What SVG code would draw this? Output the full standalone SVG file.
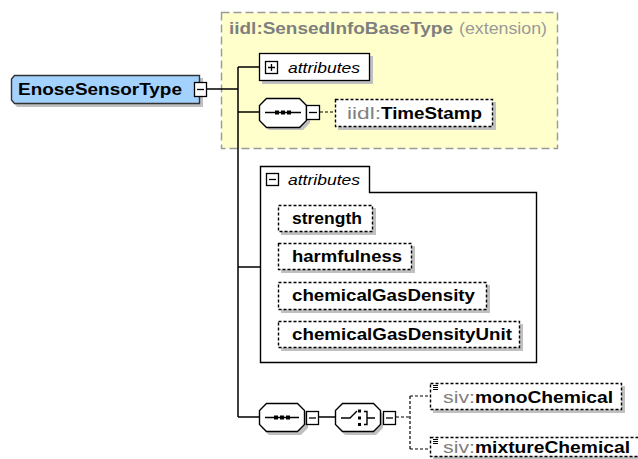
<svg xmlns="http://www.w3.org/2000/svg" width="638" height="459" viewBox="0 0 638 459">
<style>
.t{font-family:"Liberation Sans",Arial,sans-serif;font-weight:bold;font-size:17px;fill:#000}
.pre{fill:#808080;font-weight:normal}
.it{font-family:"Liberation Sans",Arial,sans-serif;font-style:italic;font-size:15px;fill:#000}
.sh{fill:#c0c0c0}
.dash{fill:#fff;stroke:#000;stroke-width:1.4;stroke-dasharray:3,2}
.solid{fill:#fff;stroke:#000;stroke-width:1.3}
.ln{stroke:#000;stroke-width:1.5;fill:none}
.dl{stroke:#000;stroke-width:1.2;fill:none;stroke-dasharray:3,2}
.oct{fill:#fff;stroke:#000;stroke-width:1.4}
</style>
<rect width="638" height="459" fill="#fff"/>

<g id="extension">
<rect x="221.5" y="12.5" width="336" height="136" fill="#ffffcc" stroke="#999" stroke-width="1.4" stroke-dasharray="8,4"/>
<text x="229" y="34" class="t" style="fill:#7f7f7f" textLength="224" lengthAdjust="spacingAndGlyphs">iidl:SensedInfoBaseType</text>
<text x="459" y="34" class="t" style="fill:#999;font-weight:normal" textLength="88" lengthAdjust="spacingAndGlyphs">(extension)</text>
</g>

<g id="connectors">
<path class="ln" d="M207,89 H238 M238,67 V417 M238,67 H259 M238,112 H259 M238,267 H260 M238,417 H259"/>
<path class="ln" d="M319,417 H335"/>
<path class="dl" d="M320,112 H335 M396,417 H410 M410,396 V449 M410,396 H430 M410,449 H430"/>
</g>

<g id="EnoseSensorType">
<path class="sh" d="M17,78 H203 V107 H17 L14,103 V82 Z"/>
<path d="M14.5,75.5 H199.5 V103.5 H14.5 L11.5,100 V79 Z" fill="#a3d2ff" stroke="#333" stroke-width="1.4"/>
<text x="18" y="95" class="t" textLength="164" lengthAdjust="spacingAndGlyphs">EnoseSensorType</text>
<rect x="194.5" y="82.5" width="12" height="14" class="solid"/>
<line x1="197" y1="89.5" x2="204" y2="89.5" stroke="#000" stroke-width="1.3"/>
</g>

<g id="attributes1">
<rect x="262" y="56" width="111" height="28" class="sh"/>
<rect x="259.5" y="53.5" width="110" height="27" class="solid"/>
<rect x="265.5" y="61.5" width="12" height="12" class="solid"/>
<path d="M268,67.5 H275 M271.5,64 V71" stroke="#000" stroke-width="1.3"/>
<text x="288" y="73" class="it" textLength="72" lengthAdjust="spacingAndGlyphs">attributes</text>
</g>

<g id="sequence1">
<path class="sh" d="M269,101 H303 L310,108 V123 L303,130 H269 L262,123 V108 Z"/>
<path class="oct" d="M266.5,98.5 H299.5 L306.5,105.5 V120.5 L299.5,127.5 H266.5 L259.5,120.5 V105.5 Z"/>
<path d="M265,112.5 H301" stroke="#000" stroke-width="1.4"/>
<rect x="275" y="110.5" width="4" height="4" fill="#000"/>
<rect x="281" y="110.5" width="4" height="4" fill="#000"/>
<rect x="287" y="110.5" width="4" height="4" fill="#000"/>
<rect x="306.5" y="105.5" width="13" height="14" class="solid"/>
<line x1="309" y1="112.5" x2="317" y2="112.5" stroke="#000" stroke-width="1.3"/>
</g>

<g id="TimeStamp">
<rect x="338" y="102" width="158" height="28" class="sh"/>
<rect x="335.5" y="99.5" width="157" height="27" class="dash"/>
<text x="347" y="119" class="t"><tspan class="pre" textLength="34" lengthAdjust="spacingAndGlyphs">iidl:</tspan><tspan textLength="101" lengthAdjust="spacingAndGlyphs">TimeStamp</tspan></text>
</g>

<g id="attributes2">
<path d="M260.5,192.5 V166.5 H369.5 V192.5 H536.5 V362.5 H260.5 Z" fill="#fff" stroke="#000" stroke-width="1.4"/>
<rect x="266.5" y="173.5" width="12" height="12" class="solid"/>
<path d="M269,179.5 H276" stroke="#000" stroke-width="1.3"/>
<text x="288" y="185" class="it" textLength="72" lengthAdjust="spacingAndGlyphs">attributes</text>
</g>

<g id="strength">
<rect x="281" y="208" width="95" height="27" class="sh"/>
<rect x="278.5" y="205.5" width="94" height="26" class="dash"/>
<text x="292" y="224" class="t" textLength="70" lengthAdjust="spacingAndGlyphs">strength</text>
</g>
<g id="harmfulness">
<rect x="281" y="246" width="134" height="27" class="sh"/>
<rect x="278.5" y="243.5" width="133" height="26" class="dash"/>
<text x="292" y="262" class="t" textLength="110" lengthAdjust="spacingAndGlyphs">harmfulness</text>
</g>
<g id="chemicalGasDensity">
<rect x="281" y="285" width="209" height="28" class="sh"/>
<rect x="278.5" y="282.5" width="208" height="27" class="dash"/>
<text x="292" y="301" class="t" textLength="183" lengthAdjust="spacingAndGlyphs">chemicalGasDensity</text>
</g>
<g id="chemicalGasDensityUnit">
<rect x="281" y="324" width="242" height="27" class="sh"/>
<rect x="278.5" y="321.5" width="241" height="26" class="dash"/>
<text x="292" y="340" class="t" textLength="220" lengthAdjust="spacingAndGlyphs">chemicalGasDensityUnit</text>
</g>

<g id="sequence2">
<path class="sh" d="M269,407 H301 L308,414 V428 L301,435 H269 L262,428 V414 Z"/>
<path class="oct" d="M266.5,403.5 H297.5 L304.5,410.5 V424.5 L297.5,431.5 H266.5 L259.5,424.5 V410.5 Z"/>
<path d="M265,417.5 H299" stroke="#000" stroke-width="1.4"/>
<rect x="274" y="415.5" width="4" height="4" fill="#000"/>
<rect x="280" y="415.5" width="4" height="4" fill="#000"/>
<rect x="286" y="415.5" width="4" height="4" fill="#000"/>
<rect x="306.5" y="411.5" width="12" height="13" class="solid"/>
<line x1="309" y1="418" x2="316" y2="418" stroke="#000" stroke-width="1.3"/>
</g>

<g id="choice">
<path class="sh" d="M345,407 H376 L383,414 V428 L376,435 H345 L338,428 V414 Z"/>
<path class="oct" d="M342.5,403.5 H373.5 L380.5,410.5 V424.5 L373.5,431.5 H342.5 L335.5,424.5 V410.5 Z"/>
<path d="M341,418 H350 L357,411 M364,411.5 H367 V424.5 H364 M367,418 H375" stroke="#000" stroke-width="1.4" fill="none"/>
<rect x="358" y="409.5" width="3" height="3" fill="#000"/>
<rect x="358" y="416.5" width="3" height="3" fill="#000"/>
<rect x="358" y="423" width="3" height="3" fill="#000"/>
<rect x="383.5" y="411.5" width="12" height="13" class="solid"/>
<line x1="386" y1="418" x2="393" y2="418" stroke="#000" stroke-width="1.3"/>
</g>

<g id="monoChemical">
<rect x="433" y="386" width="192" height="27" class="sh"/>
<rect x="430.5" y="383.5" width="191" height="26" class="dash"/>
<path d="M433,385.5 H438 M433,387.5 H438 M433,389.5 H438" stroke="#000" stroke-width="1"/>
<text x="443" y="403" class="t"><tspan class="pre" textLength="32" lengthAdjust="spacingAndGlyphs">siv:</tspan><tspan textLength="138" lengthAdjust="spacingAndGlyphs">monoChemical</tspan></text>
</g>
<g id="mixtureChemical">
<rect x="433" y="440" width="210" height="22" class="sh"/>
<rect x="430.5" y="437.5" width="209" height="19" class="dash"/>
<path d="M433,439.5 H438 M433,441.5 H438 M433,443.5 H438" stroke="#000" stroke-width="1"/>
<text x="443" y="453" class="t"><tspan class="pre" textLength="32" lengthAdjust="spacingAndGlyphs">siv:</tspan><tspan textLength="155" lengthAdjust="spacingAndGlyphs">mixtureChemical</tspan></text>
</g>
</svg>
